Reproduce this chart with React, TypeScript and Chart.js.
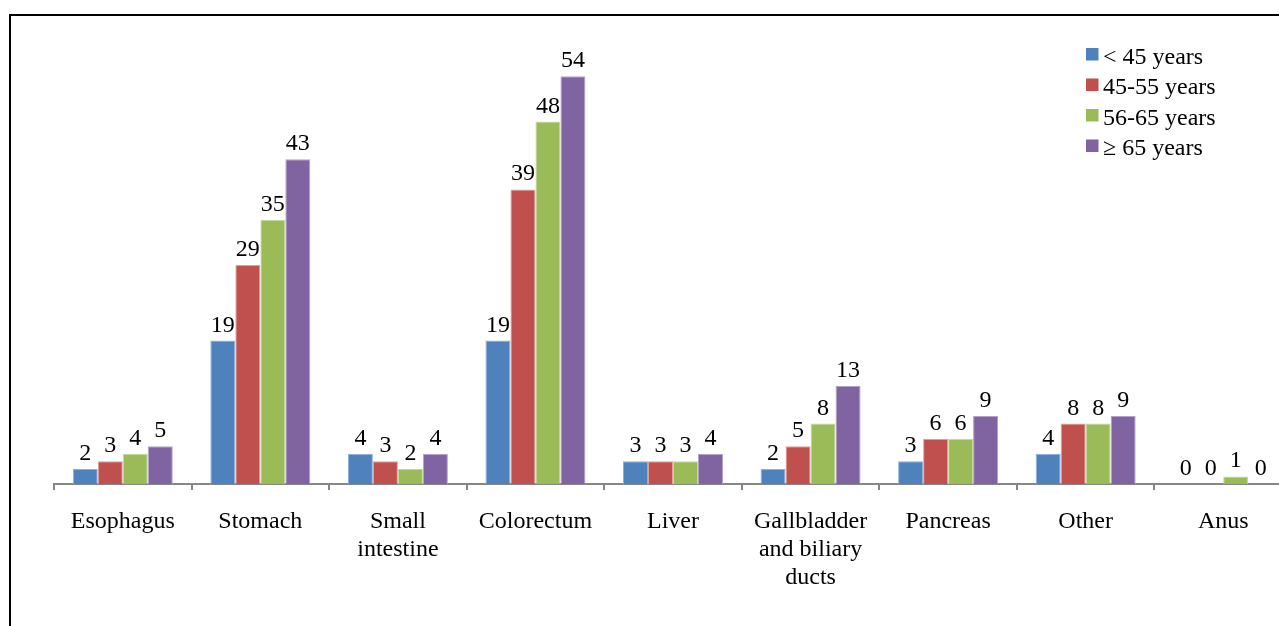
import { useEffect, useRef } from "react";
import { Chart, registerables } from "chart.js";

Chart.register(...registerables);

// Tumour sites (multi-line labels as arrays)
const categories: string[][] = [
  ["Esophagus"],
  ["Stomach"],
  ["Small", "intestine"],
  ["Colorectum"],
  ["Liver"],
  ["Gallbladder", "and biliary", "ducts"],
  ["Pancreas"],
  ["Other"],
  ["Anus"],
];

const seriesNames = ["< 45 years", "45-55 years", "56-65 years", "≥ 65 years"];

const under45 = [2, 19, 4, 19, 3, 2, 3, 4, 0];
const age45to55 = [3, 29, 3, 39, 3, 5, 6, 8, 0];
const age56to65 = [4, 35, 2, 48, 3, 8, 6, 8, 1];
const age65plus = [5, 43, 4, 54, 4, 13, 9, 9, 0];

const seriesValues = [under45, age45to55, age56to65, age65plus];
const fillColors = ["#4F81BD", "#C0504D", "#9BBB59", "#8064A2"];
const edgeColors = ["#8FB0D8", "#E0A09E", "#C6DA9E", "#B3A3CC"];

const FONT = "'Liberation Serif', 'Times New Roman', serif";
const FONT_SIZE = 24;

// Value labels above every bar
const valueLabels = {
  id: "valueLabels",
  afterDatasetsDraw(chart: any) {
    const ctx = chart.ctx;
    ctx.save();
    ctx.font = `${FONT_SIZE}px ${FONT}`;
    ctx.fillStyle = "#000";
    ctx.textAlign = "center";
    ctx.textBaseline = "alphabetic";
    chart.data.datasets.forEach((ds: any, i: number) => {
      const meta = chart.getDatasetMeta(i);
      meta.data.forEach((bar: any, j: number) => {
        ctx.fillText(String(ds.data[j]), bar.x, bar.y - 9);
      });
    });
    ctx.restore();
  },
};

// Stacked legend in the upper right of the plot
const cornerLegend = {
  id: "cornerLegend",
  afterDraw(chart: any) {
    const ctx = chart.ctx;
    ctx.save();
    ctx.font = `${FONT_SIZE}px ${FONT}`;
    ctx.textAlign = "left";
    ctx.textBaseline = "alphabetic";
    chart.data.datasets.forEach((ds: any, i: number) => {
      const top = 48 + i * 30.5;
      ctx.fillStyle = ds.backgroundColor;
      ctx.fillRect(1086, top, 12.5, 12.5);
      ctx.fillStyle = "#000";
      ctx.fillText(ds.label, 1103, top + 15.5);
    });
    ctx.restore();
  },
};

export default function App() {
  const canvasRef = useRef<HTMLCanvasElement | null>(null);

  useEffect(() => {
    if (!canvasRef.current) return;
    const chart = new Chart(canvasRef.current, {
      type: "bar",
      data: {
        labels: categories,
        datasets: seriesNames.map((name, i) => ({
          label: name,
          data: seriesValues[i],
          backgroundColor: fillColors[i],
          borderColor: edgeColors[i],
          borderWidth: 1,
          barPercentage: 1,
          categoryPercentage: 0.727,
        })),
      },
      options: {
        animation: false,
        responsive: false,
        layout: { padding: { left: 54, right: 28, top: 46, bottom: 0 } },
        plugins: {
          legend: { display: false },
          tooltip: { enabled: false },
        },
        scales: {
          x: {
            offset: true,
            grid: {
              drawOnChartArea: false,
              drawTicks: true,
              tickLength: 6,
              color: "#868686",
              lineWidth: 2,
            },
            border: { display: true, color: "#868686", width: 2 },
            ticks: {
              color: "#000",
              padding: 18,
              maxRotation: 0,
              autoSkip: false,
              font: { family: FONT, size: FONT_SIZE, lineHeight: 28 / FONT_SIZE },
            },
            afterFit(scale: any) {
              scale.height = 142;
            },
          },
          y: {
            display: false,
            min: 0,
            max: 58,
          },
        },
      },
      plugins: [valueLabels, cornerLegend],
    });
    return () => chart.destroy();
  }, []);

  return (
    <div
      style={{
        position: "fixed",
        left: 0,
        top: 0,
        width: 1279,
        height: 626,
        overflow: "hidden",
        background: "#fff",
      }}
    >
      <div
        style={{
          position: "absolute",
          left: 9,
          top: 14,
          width: 1400,
          height: 800,
          borderTop: "2px solid #000",
          borderLeft: "2px solid #000",
        }}
      />
      <canvas
        ref={canvasRef}
        width={1320}
        height={626}
        style={{ position: "absolute", left: 0, top: 0, display: "block" }}
      />
    </div>
  );
}
